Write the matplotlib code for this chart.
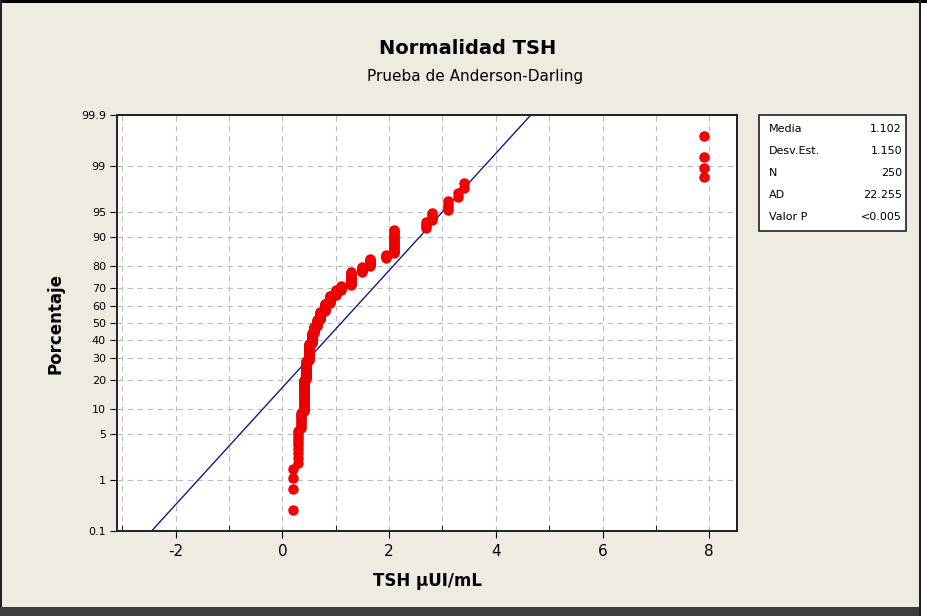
import numpy as np
import matplotlib.pyplot as plt
from matplotlib.patches import Rectangle
from statistics import NormalDist

# valores de TSH (valor y cuantas veces se repite)
tsh_values = [0.2, 0.3, 0.35, 0.4, 0.45, 0.5, 0.55, 0.6, 0.65, 0.7, 0.8, 0.9,
              1.0, 1.1, 1.28, 1.5, 1.65, 1.95, 2.1, 2.7, 2.8, 3.1, 3.3, 3.4, 7.9]
tsh_counts = [4, 10, 9, 27, 22, 23, 15, 10, 10, 12, 12, 11,
              7, 6, 16, 6, 8, 4, 18, 4, 4, 4, 2, 2, 4]

stat_names = ['Media', 'Desv.Est.', 'N', 'AD', 'Valor P']
stat_values = ['1.102', '1.150', '250', '22.255', '<0.005']
media = 1.102
desv = 1.150

y_ticks = [0.1, 1, 5, 10, 20, 30, 40, 50, 60, 70, 80, 90, 95, 99, 99.9]
y_labels = ['0.1', '1', '5', '10', '20', '30', '40', '50', '60', '70',
            '80', '90', '95', '99', '99.9']
x_ticks = [-2, 0, 2, 4, 6, 8]

plt.rcParams['axes.unicode_minus'] = False
nd = NormalDist()


def prob_fwd(p):
    p = np.clip(np.asarray(p, dtype=float), 1e-9, 100 - 1e-9)
    return np.vectorize(lambda v: nd.inv_cdf(v / 100.0), otypes=[float])(p)


def prob_inv(z):
    z = np.asarray(z, dtype=float)
    return np.vectorize(lambda v: nd.cdf(v) * 100.0, otypes=[float])(z)


# posiciones de Minitab (rangos medianos)
data = np.repeat(tsh_values, tsh_counts)
n = len(data)
ranks = np.arange(1, n + 1)
pct = 100.0 * (ranks - 0.3) / (n + 0.4)

bg = '#EEEBE1'
fig = plt.figure(figsize=(9.27, 6.16), dpi=100, facecolor='white')
W, H = 927.0, 616.0
# marco de la ventana
fig.patches.append(Rectangle((0, 0), 921 / W, 1, transform=fig.transFigure,
                             facecolor=bg, edgecolor='none', zorder=-10))
fig.patches.append(Rectangle((0, 1 - 3 / H), 1, 3 / H, transform=fig.transFigure,
                             facecolor='black', edgecolor='none', zorder=-5))
fig.patches.append(Rectangle((0, 0), 2 / W, 1, transform=fig.transFigure,
                             facecolor='#222222', edgecolor='none', zorder=-5))
fig.patches.append(Rectangle((0, 0), 921 / W, 9 / H, transform=fig.transFigure,
                             facecolor='#3c3c3c', edgecolor='none', zorder=-5))
fig.patches.append(Rectangle((919 / W, 0), 2 / W, 1, transform=fig.transFigure,
                             facecolor='#222222', edgecolor='none', zorder=-5))

ax = fig.add_axes([117 / W, 1 - 531 / H, 620 / W, 416 / H])
ax.set_facecolor('white')
ax.set_yscale('function', functions=(prob_fwd, prob_inv))
ax.set_ylim(0.1, 99.9)
ax.set_xlim(-3.1, 8.52)

ax.set_yticks(y_ticks)
ax.set_yticklabels(y_labels, fontsize=8)
ax.set_xticks(x_ticks)
ax.set_xticks(np.arange(-3, 9, 1), minor=True)
ax.tick_params(axis='x', which='major', direction='out', length=5, labelsize=11, pad=4)
ax.tick_params(axis='x', which='minor', direction='in', length=4)
ax.tick_params(axis='y', which='major', direction='out', length=5, pad=3)
ax.yaxis.set_minor_locator(plt.NullLocator())

ax.grid(True, which='both', axis='x', color='#BDBDBD', linestyle=(0, (5, 4)), linewidth=0.8)
ax.grid(True, which='major', axis='y', color='#BDBDBD', linestyle=(0, (5, 4)), linewidth=0.8)
ax.set_axisbelow(True)
for sp in ax.spines.values():
    sp.set_linewidth(1.4)
    sp.set_color('#202020')

# recta de ajuste normal
p_line = np.array([0.1, 99.9])
x_line = [media + desv * nd.inv_cdf(p / 100.0) for p in p_line]
ax.plot(x_line, p_line, color='#1A1A80', linewidth=1.0, zorder=2)

ax.plot(data, pct, linestyle='none', marker='o', markersize=6.5,
        color='#FF0000', markeredgecolor='#E80000', zorder=3, clip_on=False)

ax.set_xlabel('TSH µUI/mL', fontsize=12, fontweight='bold', labelpad=10)
ax.set_ylabel('Porcentaje', fontsize=12, fontweight='bold', labelpad=12)

fig.text(468 / W, 1 - 48 / H, 'Normalidad TSH', ha='center', va='center',
         fontsize=14, fontweight='bold')
fig.text(475 / W, 1 - 76 / H, 'Prueba de Anderson-Darling', ha='center',
         va='center', fontsize=11)

# cuadro de estadisticos
box = Rectangle((759 / W, 1 - 231 / H), 147 / W, 116 / H, transform=fig.transFigure,
                facecolor='white', edgecolor='#202020', linewidth=1.2)
fig.patches.append(box)
row_y = [129, 151, 173, 195, 217]
for name, val, yy in zip(stat_names, stat_values, row_y):
    fig.text(769 / W, 1 - yy / H, name, ha='left', va='center', fontsize=8)
    fig.text(902 / W, 1 - yy / H, val, ha='right', va='center', fontsize=8)

fig.savefig('out.png', dpi=100, facecolor=fig.get_facecolor())
